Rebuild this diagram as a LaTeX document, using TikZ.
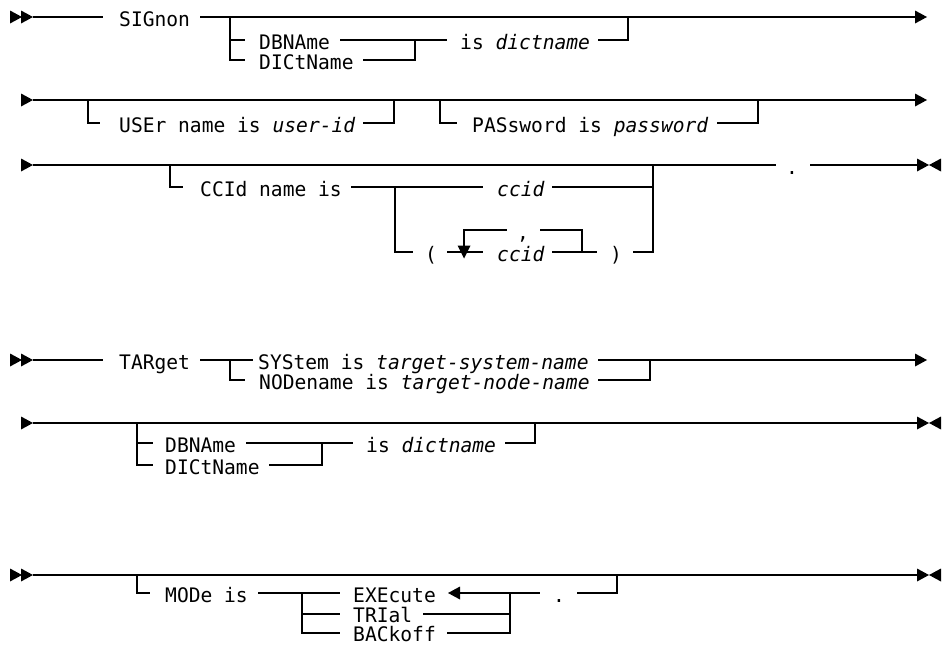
\documentclass[tikz,border=0pt]{standalone}
\usepackage{fontspec}
\newfontfamily\mono[FakeStretch=0.98]{DejaVu Sans Mono}
\begin{document}
\begin{tikzpicture}[x=1pt,y=-1pt,
  rail/.style={line width=1.5pt},
  lbl/.style={font=\mono\fontsize{20}{22}\selectfont, inner sep=0pt, anchor=base west, text depth=0pt},
  rtri/.pic={\fill (-12,-6.5) -- (0,0) -- (-12,6.5) -- cycle;},
  ltri/.pic={\fill (12,-6.5) -- (0,0) -- (12,6.5) -- cycle;},
  dtri/.pic={\fill (-6.5,-6.5) -- (0,6.5) -- (6.5,-6.5) -- cycle;}
]
\useasboundingbox (0,0) rectangle (942,645);

% ---------------- Diagram 1, row A ----------------
\pic at (22,17) {rtri}; \pic at (33,17) {rtri};
\draw[rail] (33,17) -- (103,17);
\node[lbl] (sig) at (119,26) {SIGnon};
\draw[rail] (200,17) -- (916,17); \pic at (927,17) {rtri};
\draw[rail] (230,17) -- (230,60) -- (245,60);
\draw[rail] (230,40) -- (245,40);
\node[lbl] (dbn1) at (259,49) {DBNAme};
\node[lbl] (dic1) at (259,69) {DICtName};
\draw[rail] (340,40) -- (447,40);
\draw[rail] (363,60) -- (415,60) -- (415,40);
\node[lbl] (is1) at (460,49) {is \textit{dictname}};
\draw[rail] (598,40) -- (628,40) -- (628,17);

% ---------------- row B ----------------
\pic at (33,100) {rtri};
\draw[rail] (33,100) -- (916,100); \pic at (927,100) {rtri};
\draw[rail] (88,100) -- (88,123) -- (100,123);
\node[lbl] (usr) at (119,132) {USEr name is \textit{user-id}};
\draw[rail] (363,123) -- (394,123) -- (394,100);
\draw[rail] (440,100) -- (440,123) -- (457,123);
\node[lbl] (pwd) at (472,132) {PASsword is \textit{password}};
\draw[rail] (717,123) -- (758,123) -- (758,100);

% ---------------- row C ----------------
\pic at (33,165) {rtri};
\draw[rail] (33,165) -- (776,165);
\node[lbl] (dot1) at (786,174) {.};
\draw[rail] (810,165) -- (918,165);
\pic at (929,165) {rtri}; \pic at (929,165) {ltri};
\draw[rail] (170,165) -- (170,187) -- (183,187);
\node[lbl] (ccidkw) at (200,196) {CCId name is};
\draw[rail] (351,187) -- (483,187);
\node[lbl] (ccida) at (497,196) {\textit{ccid}};
\draw[rail] (552,187) -- (653,187);
\draw[rail] (395,187) -- (395,252) -- (413,252);
\node[lbl] (lp) at (425,261) {(};
\draw[rail] (447,252) -- (483,252);
\draw[rail] (464,252) -- (464,230) -- (507,230);
\pic at (464,252) {dtri};
\node[lbl] (comma) at (517,239) {,};
\draw[rail] (540,230) -- (582,230) -- (582,252);
\node[lbl] (ccidb) at (497,261) {\textit{ccid}};
\draw[rail] (552,252) -- (597,252);
\node[lbl] (rp) at (610,261) {)};
\draw[rail] (633,252) -- (653,252) -- (653,165);

% ---------------- Diagram 2, row D ----------------
\pic at (22,360) {rtri}; \pic at (33,360) {rtri};
\draw[rail] (33,360) -- (103,360);
\node[lbl] (tar) at (119,369) {TARget};
\draw[rail] (200,360) -- (253,360);
\node[lbl] (sys) at (258,369) {SYStem is \textit{target-system-name}};
\draw[rail] (598,360) -- (916,360); \pic at (927,360) {rtri};
\draw[rail] (230,360) -- (230,380) -- (245,380);
\node[lbl] (nod) at (259,389) {NODename is \textit{target-node-name}};
\draw[rail] (598,380) -- (650,380) -- (650,360);

% ---------------- row E ----------------
\pic at (33,423) {rtri};
\draw[rail] (33,423) -- (918,423);
\pic at (929,423) {rtri}; \pic at (929,423) {ltri};
\draw[rail] (137,423) -- (137,465) -- (153,465);
\draw[rail] (137,443) -- (153,443);
\node[lbl] (dbn2) at (165,452) {DBNAme};
\draw[rail] (246,443) -- (353,443);
\node[lbl] (dic2) at (165,474) {DICtName};
\draw[rail] (269,465) -- (322,465) -- (322,443);
\node[lbl] (is2) at (366,452) {is \textit{dictname}};
\draw[rail] (505,443) -- (535,443) -- (535,423);

% ---------------- Diagram 3, row F ----------------
\pic at (22,575) {rtri}; \pic at (33,575) {rtri};
\draw[rail] (33,575) -- (918,575);
\pic at (929,575) {rtri}; \pic at (929,575) {ltri};
\draw[rail] (137,575) -- (137,593) -- (150,593);
\node[lbl] (mode) at (165,602) {MODe is};
\draw[rail] (258,593) -- (340,593);
\draw[rail] (302,593) -- (302,633) -- (340,633);
\draw[rail] (302,614) -- (340,614);
\node[lbl] (exe) at (353,602) {EXEcute};
\pic at (448,593) {ltri};
\draw[rail] (459,593) -- (540,593);
\node[lbl] (tri) at (353,622) {TRIal};
\draw[rail] (423,614) -- (510,614);
\node[lbl] (bac) at (353,641) {BACkoff};
\draw[rail] (447,633) -- (510,633) -- (510,593);
\node[lbl] (dot2) at (553,602) {.};
\draw[rail] (577,593) -- (617,593) -- (617,575);
\end{tikzpicture}
\end{document}
